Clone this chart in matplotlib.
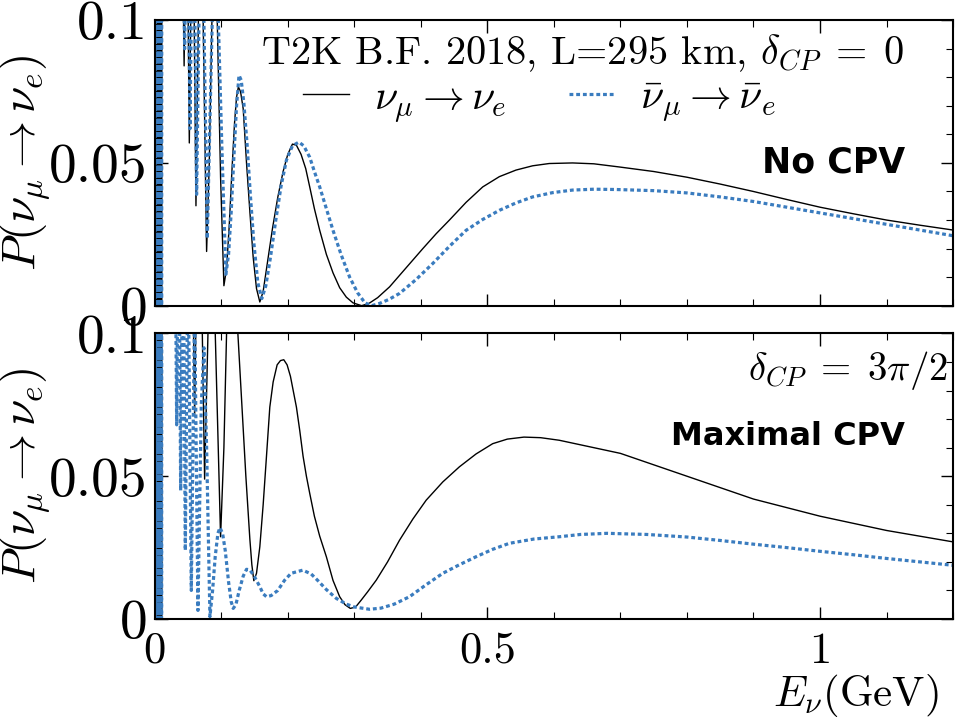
import numpy as np
import matplotlib
matplotlib.use('Agg')
import matplotlib.pyplot as plt
from matplotlib.ticker import MultipleLocator

# ------------------------------Define layout------------------------------
plt.rc('font', family='serif', size=40)
plt.rcParams['font.serif'] = ['cmr10', 'DejaVu Serif']
plt.rcParams['mathtext.fontset'] = 'cm'
plt.rcParams['axes.unicode_minus'] = False
plt.rc('axes', linewidth=1.5)

# ------------------------------Data---------------------------------------
# fast oscillations at very low energy (dense band)
band_E = [0.0005, 0.0012, 0.0019, 0.0026, 0.0033, 0.0040, 0.0047, 0.0054,
          0.0061, 0.0068, 0.0075, 0.0082, 0.0089, 0.0096, 0.0103, 0.0110]
band_P = [0.0, 0.3, 0.0, 0.3, 0.0, 0.3, 0.0, 0.3,
          0.0, 0.3, 0.0, 0.3, 0.0, 0.3, 0.0, 0.3]

# delta_CP = 0, neutrino
E_top_nu = [0.012, 0.040, 0.0442, 0.048, 0.052, 0.057, 0.062, 0.069, 0.078, 0.082,
            0.086, 0.090, 0.094, 0.099, 0.104, 0.108, 0.112, 0.116, 0.120, 0.123,
            0.1257, 0.129, 0.133, 0.138, 0.143, 0.148, 0.153, 0.158, 0.163, 0.170,
            0.177, 0.185, 0.193, 0.200, 0.207, 0.213, 0.220, 0.227, 0.233, 0.240,
            0.248, 0.258, 0.268, 0.278, 0.288, 0.298, 0.311, 0.322, 0.335, 0.353,
            0.375, 0.403, 0.423, 0.443, 0.468, 0.493, 0.518, 0.543, 0.568, 0.593,
            0.628, 0.66, 0.698, 0.75, 0.80, 0.85, 0.90, 0.95, 1.0, 1.05,
            1.1, 1.15, 1.2]
P_top_nu = [0.3, 0.16, 0.084, 0.16, 0.057, 0.16, 0.035, 0.16, 0.019, 0.05,
            0.10, 0.125, 0.10, 0.045, 0.007, 0.013, 0.028, 0.047, 0.064, 0.073,
            0.0766, 0.075, 0.069, 0.050, 0.033, 0.017, 0.006, 0.0013, 0.005, 0.016,
            0.027, 0.038, 0.047, 0.053, 0.0566, 0.0562, 0.053, 0.048, 0.0416, 0.034,
            0.0264, 0.018, 0.0115, 0.0063, 0.003, 0.001, 0.0, 0.0008, 0.0028, 0.0066,
            0.0125, 0.020, 0.0252, 0.030, 0.0362, 0.0416, 0.0452, 0.0475, 0.049, 0.0498,
            0.050, 0.0497, 0.0486, 0.047, 0.045, 0.0426, 0.040, 0.0372, 0.0345, 0.0322,
            0.030, 0.0282, 0.0265]

# delta_CP = 0, antineutrino
E_top_nubar = [0.012, 0.041, 0.045, 0.049, 0.053, 0.058, 0.063, 0.070, 0.079, 0.083,
               0.087, 0.091, 0.095, 0.101, 0.107, 0.111, 0.115, 0.119, 0.123, 0.1267,
               0.130, 0.134, 0.139, 0.144, 0.149, 0.155, 0.161, 0.167, 0.174, 0.182,
               0.190, 0.198, 0.207, 0.2167, 0.224, 0.233, 0.240, 0.248, 0.258, 0.268,
               0.280, 0.293, 0.305, 0.316, 0.326, 0.338, 0.352, 0.368, 0.393, 0.418,
               0.443, 0.468, 0.493, 0.518, 0.543, 0.568, 0.598, 0.628, 0.66, 0.693,
               0.75, 0.80, 0.85, 0.90, 0.95, 1.0, 1.05, 1.1, 1.15, 1.2]
P_top_nubar = [0.3, 0.16, 0.09, 0.16, 0.062, 0.16, 0.039, 0.16, 0.0235, 0.065,
               0.105, 0.13, 0.105, 0.055, 0.011, 0.018, 0.033, 0.052, 0.070, 0.0807,
               0.079, 0.071, 0.056, 0.038, 0.022, 0.008, 0.0025, 0.007, 0.017, 0.030,
               0.042, 0.051, 0.056, 0.0573, 0.056, 0.052, 0.047, 0.0416, 0.034, 0.0264,
               0.018, 0.010, 0.0045, 0.001, 0.0, 0.0008, 0.0022, 0.0043, 0.0092, 0.0148,
               0.0208, 0.0264, 0.0302, 0.0334, 0.036, 0.0381, 0.0396, 0.0405, 0.0408, 0.0407,
               0.0403, 0.0395, 0.0381, 0.0365, 0.0345, 0.0325, 0.0305, 0.0285, 0.0265, 0.0245]

# delta_CP = 3pi/2, neutrino
E_bot_nu = [0.012, 0.0555, 0.060, 0.0645, 0.0675, 0.075, 0.084, 0.0865, 0.091, 0.099,
            0.104, 0.108, 0.117, 0.125, 0.131, 0.137, 0.143, 0.146, 0.149, 0.153,
            0.158, 0.163, 0.168, 0.173, 0.178, 0.184, 0.189, 0.194, 0.199, 0.204,
            0.209, 0.213, 0.218, 0.223, 0.228, 0.233, 0.240, 0.248, 0.258, 0.268,
            0.278, 0.286, 0.294, 0.302, 0.310, 0.320, 0.333, 0.350, 0.368, 0.388,
            0.408, 0.433, 0.458, 0.483, 0.508, 0.530, 0.555, 0.580, 0.608, 0.65,
            0.70, 0.75, 0.80, 0.85, 0.90, 0.95, 1.0, 1.05, 1.1, 1.15, 1.2]
P_bot_nu = [0.3, 0.15, 0.071, 0.15, 0.16, 0.049, 0.14, 0.145, 0.10, 0.0288,
            0.06, 0.10, 0.13, 0.10, 0.075, 0.05, 0.028, 0.019, 0.0134, 0.016,
            0.0253, 0.040, 0.057, 0.0742, 0.083, 0.089, 0.0905, 0.0908, 0.089, 0.085,
            0.079, 0.0742, 0.066, 0.057, 0.050, 0.044, 0.036, 0.029, 0.0218, 0.0135,
            0.0078, 0.0050, 0.0037, 0.0042, 0.0065, 0.0095, 0.0136, 0.020, 0.0276, 0.035,
            0.0416, 0.048, 0.0533, 0.0578, 0.0614, 0.063, 0.0637, 0.0635, 0.0626, 0.0605,
            0.058, 0.054, 0.050, 0.046, 0.042, 0.039, 0.036, 0.0335, 0.031, 0.029, 0.027]

# delta_CP = 3pi/2, antineutrino
E_bot_nubar = [0.012, 0.030, 0.033, 0.036, 0.039, 0.0425, 0.046, 0.050, 0.055, 0.060,
               0.065, 0.070, 0.074, 0.078, 0.083, 0.087, 0.091, 0.095, 0.098, 0.102,
               0.106, 0.111, 0.115, 0.118, 0.122, 0.127, 0.133, 0.138, 0.143, 0.150,
               0.158, 0.163, 0.168, 0.175, 0.185, 0.195, 0.205, 0.2225, 0.235, 0.245,
               0.258, 0.273, 0.288, 0.300, 0.323, 0.340, 0.360, 0.383, 0.408, 0.433,
               0.458, 0.483, 0.508, 0.533, 0.570, 0.608, 0.64, 0.68, 0.74, 0.80,
               0.85, 0.90, 0.95, 1.0, 1.05, 1.1, 1.15, 1.2]
P_bot_nubar = [0.3, 0.16, 0.068, 0.16, 0.045, 0.15, 0.024, 0.13, 0.010, 0.11,
               0.003, 0.075, 0.095, 0.06, 0.0008, 0.010, 0.022, 0.030, 0.032, 0.030,
               0.024, 0.013, 0.006, 0.0037, 0.005, 0.010, 0.015, 0.0174, 0.0172, 0.0148,
               0.0113, 0.0088, 0.0078, 0.0082, 0.010, 0.0135, 0.0160, 0.0171, 0.0158, 0.0135,
               0.0103, 0.0072, 0.0052, 0.0042, 0.0034, 0.0038, 0.0052, 0.0078, 0.012, 0.016,
               0.019, 0.0218, 0.0244, 0.0265, 0.028, 0.0288, 0.0296, 0.030, 0.0296, 0.0287,
               0.0275, 0.0262, 0.025, 0.0237, 0.0225, 0.0212, 0.020, 0.0188]

blue = '#3a7cbf'
dots = (0, (1.2, 0.9))

# ------------------------------Plotting-----------------------------------
fig = plt.figure(figsize=(9.55, 7.21), dpi=100)
ax1 = fig.add_axes([0.162, 0.576, 0.836, 0.396])
ax2 = fig.add_axes([0.162, 0.1415, 0.836, 0.396], sharex=ax1)

panels = [(ax1, E_top_nu, P_top_nu, E_top_nubar, P_top_nubar),
          (ax2, E_bot_nu, P_bot_nu, E_bot_nubar, P_bot_nubar)]

for ax, e_nu, p_nu, e_nb, p_nb in panels:
    ax.plot(band_E + e_nu, band_P + p_nu, color='black', lw=1.0,
            label=r'$\nu_\mu \rightarrow \nu_e$')
    ax.plot(band_E + e_nb, band_P + p_nb, color=blue, lw=2.3, ls=dots,
            label=r'$\bar{\nu}_\mu \rightarrow \bar{\nu}_e$')
    ax.set_xlim(0, 1.2)
    ax.set_ylim(0, 0.1)
    ax.set_yticks([0, 0.05, 0.1])
    ax.set_yticklabels(['0', '0.05', '0.1'])
    ax.set_ylabel(r'$P(\nu_\mu \rightarrow \nu_e)$', fontsize=34)
    ax.yaxis.set_label_coords(-0.128, 0.5)
    ax.xaxis.set_major_locator(MultipleLocator(0.5))
    ax.xaxis.set_minor_locator(MultipleLocator(0.1))
    ax.yaxis.set_minor_locator(MultipleLocator(0.01))
    ax.tick_params(which='major', direction='in', length=9, width=1.0,
                   top=True, right=True, labelsize=40, pad=5)
    ax.tick_params(which='minor', direction='in', length=5, width=0.8,
                   top=True, right=True)

ax1.tick_params(labelbottom=False)
ax2.set_xticks([0, 0.5, 1])
ax2.set_xticklabels(['0', '0.5', '1'])
ax2.tick_params(axis='x', labelsize=32, pad=9)
ax2.set_xlabel(r'$E_\nu(\mathrm{GeV})$', fontsize=31, loc='right')
ax2.xaxis.label.set_va('bottom')
ax2.xaxis.set_label_coords(0.982, -0.352)

# annotations
ax1.text(0.536, 0.885, r'T2K B.F. 2018, L=295 km, $\delta_{CP}\;=\;0$',
         transform=ax1.transAxes, ha='center', va='center', fontsize=29)
ax1.legend(loc='center', bbox_to_anchor=(0.482, 0.715), ncol=2, frameon=False,
           fontsize=30, handlelength=1.1, columnspacing=1.5, handletextpad=0.6)
ax1.text(0.94, 0.50, 'No CPV', transform=ax1.transAxes, ha='right', va='center',
         fontsize=25, fontweight='bold', family='DejaVu Sans')
ax2.text(0.993, 0.87, r'$\delta_{CP}\;=\;3\pi/2$', transform=ax2.transAxes,
         ha='right', va='center', fontsize=28)
ax2.text(0.94, 0.64, 'Maximal CPV', transform=ax2.transAxes, ha='right', va='center',
         fontsize=23, fontweight='bold', family='DejaVu Sans')

fig.savefig('out.png', dpi=100)
